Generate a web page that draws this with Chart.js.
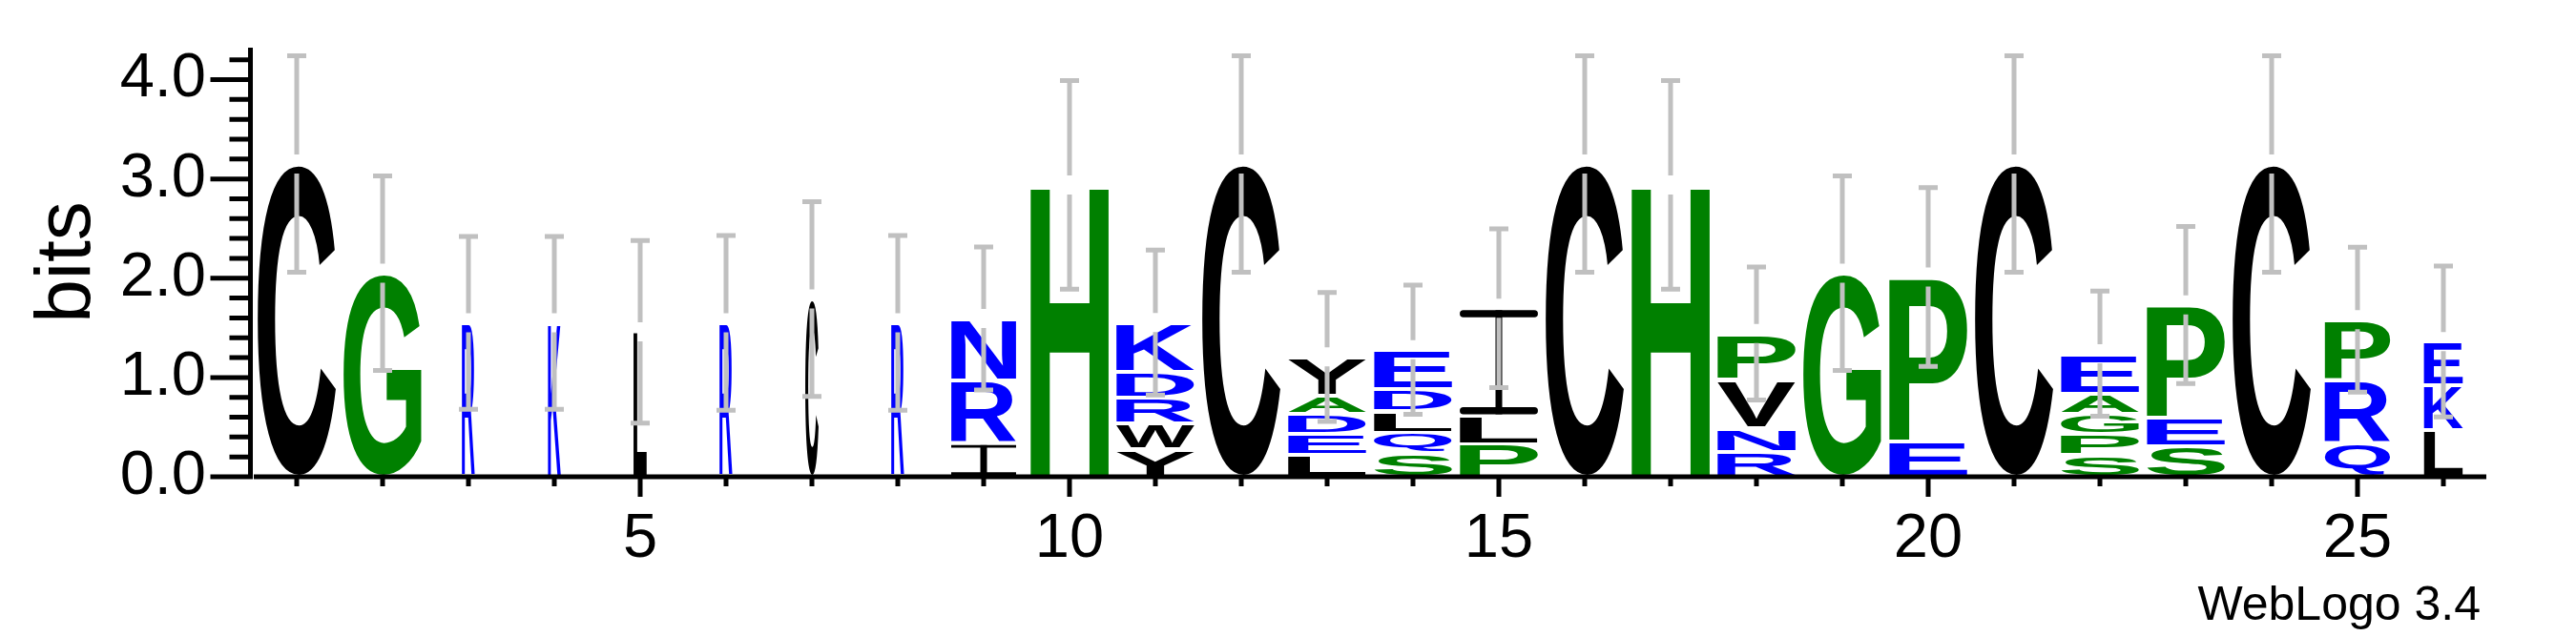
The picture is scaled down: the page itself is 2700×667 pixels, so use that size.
<!DOCTYPE html>
<html>
<head>
<meta charset="utf-8">
<title>Sequence logo</title>
<script src="https://cdn.jsdelivr.net/npm/chart.js@4.4.0/dist/chart.umd.min.js"></script>
<style>
    html, body { margin: 0; padding: 0; background: #ffffff; }
    #wrap { width: 2700px; height: 667px; }
</style>
</head>
<body>
<div id="wrap"><canvas id="logo" width="2700" height="667"></canvas></div>
<script>
(function() {
    'use strict';

    // Positions along the alignment
    const positions = ['1', '2', '3', '4', '5', '6', '7', '8', '9', '10', '11', '12', '13',
                       '14', '15', '16', '17', '18', '19', '20', '21', '22', '23', '24', '25', '26'];

    // Letter stacks, bottom (level 0) to top (level 4), heights in bits
    const letters0 = ['C', 'G', 'R', 'K', 'L', 'R', 'C', 'R', 'I', 'H', 'Y', 'C', 'L',
                      'S', 'P', 'C', 'H', 'R', 'G', 'E', 'C', 'S', 'S', 'C', 'Q', 'L'];
    const bits0 = [3.15, 2.05, 1.55, 1.55, 1.46, 1.55, 1.79, 1.55, 0.338, 2.94, 0.276, 3.15, 0.225,
                   0.237, 0.33, 3.15, 2.94, 0.253, 2.05, 0.355, 3.15, 0.22, 0.31, 3.15, 0.338, 0.47];

    const letters1 = ['', '', '', '', '', '', '', '', 'R', '', 'W', '', 'E',
                      'Q', 'L', '', '', 'N', '', 'P', '', 'P', 'E', '', 'R', 'K'];
    const bits1 = [0, 0, 0, 0, 0, 0, 0, 0, 0.636, 0, 0.264, 0, 0.205,
                   0.209, 0.28, 0, 0, 0.241, 0, 1.657, 0, 0.21, 0.283, 0, 0.636, 0.455];

    const letters2 = ['', '', '', '', '', '', '', '', 'N', '', 'R', '', 'D',
                      'L', 'I', '', '', 'V', '', '', '', 'G', 'P', '', 'P', 'E'];
    const bits2 = [0, 0, 0, 0, 0, 0, 0, 0, 0.621, 0, 0.26, 0, 0.2,
                   0.214, 1.087, 0, 0, 0.486, 0, 0, 0, 0.207, 1.137, 0, 0.609, 0.437];

    const letters3 = ['', '', '', '', '', '', '', '', '', '', 'D', '', 'A',
                      'D', '', '', '', 'P', '', '', '', 'A', '', '', '', ''];
    const bits3 = [0, 0, 0, 0, 0, 0, 0, 0, 0, 0, 0.26, 0, 0.19,
                   0.22, 0, 0, 0, 0.464, 0, 0, 0, 0.203, 0, 0, 0, 0];

    const letters4 = ['', '', '', '', '', '', '', '', '', '', 'K', '', 'Y',
                      'E', '', '', '', '', '', '', '', 'E', '', '', '', ''];
    const bits4 = [0, 0, 0, 0, 0, 0, 0, 0, 0, 0, 0.494, 0, 0.387,
                   0.40, 0, 0, 0, 0, 0, 0, 0, 0.40, 0, 0, 0, 0];

    // Error bar half widths (bits)
    const errors = [1.09, 0.98, 0.87, 0.87, 0.92, 0.88, 0.98, 0.88, 0.72, 1.05, 0.73, 1.09, 0.65,
                    0.65, 0.80, 1.09, 1.05, 0.67, 0.98, 0.90, 1.09, 0.63, 0.79, 1.09, 0.73, 0.76];

    // Stack width as a fraction of a full column (gapped columns are narrower)
    const columnWidths = [1, 1, 0.165, 0.165, 0.17, 0.165, 0.17, 0.165, 0.83, 1, 1, 1, 1,
                          1, 1, 1, 1, 1, 1, 1, 1, 1, 1, 1, 0.84, 0.5];

    const yMax = Math.log2(20);

    const levels = [
        { letters: letters0, bits: bits0 },
        { letters: letters1, bits: bits1 },
        { letters: letters2, bits: bits2 },
        { letters: letters3, bits: bits3 },
        { letters: letters4, bits: bits4 }
    ];

    const textFont = '"Liberation Sans", Arial, Helvetica, sans-serif';

    /**
     * Hydrophobicity colour scheme
     */
    function letterColour(ch) {
        if ('RKDENQ'.indexOf(ch) >= 0) return '#0000ff';
        if ('SGHTAP'.indexOf(ch) >= 0) return '#008000';
        return '#000000';
    }

    /**
     * Draw one letter stretched to fill a box
     */
    function drawGlyph(ctx, ch, x, y, w, h, colour) {
        ctx.save();
        if (ch === 'I') {
            // serif I: two bars and a thin stem
            const bar = Math.min(7.5, Math.max(2, h * 0.085));
            ctx.strokeStyle = colour;
            ctx.fillStyle = colour;
            ctx.lineCap = bar > 4 ? 'round' : 'butt';
            ctx.lineWidth = bar;
            const inset = ctx.lineCap === 'round' ? bar / 2 : 0;
            ctx.beginPath();
            ctx.moveTo(x + inset, y + bar / 2);
            ctx.lineTo(x + w - inset, y + bar / 2);
            ctx.moveTo(x + inset, y + h - bar / 2);
            ctx.lineTo(x + w - inset, y + h - bar / 2);
            ctx.stroke();
            ctx.fillRect(x + w / 2 - 3.5, y, 7, h);
            ctx.restore();
            return;
        }
        ctx.font = 'bold 200px ' + textFont;
        ctx.textAlign = 'left';
        ctx.textBaseline = 'alphabetic';
        const m = ctx.measureText(ch);
        const gw = m.actualBoundingBoxLeft + m.actualBoundingBoxRight;
        const gh = m.actualBoundingBoxAscent + m.actualBoundingBoxDescent;
        ctx.fillStyle = colour;
        ctx.translate(x, y);
        ctx.scale(w / gw, h / gh);
        ctx.fillText(ch, m.actualBoundingBoxLeft, m.actualBoundingBoxAscent);
        ctx.restore();
    }

    /**
     * Letters, error bars and axes
     */
    const logoPlugin = {
        id: 'logoPlugin',
        afterDatasetsDraw(chart) {
            const ctx = chart.ctx;
            const xScale = chart.scales.x;
            const yScale = chart.scales.y;

            // Letters
            chart.data.datasets.forEach((ds, k) => {
                const meta = chart.getDatasetMeta(k);
                meta.data.forEach((bar, i) => {
                    const ch = ds.letters[i];
                    if (!ch) return;
                    const p = bar.getProps(['x', 'y', 'base', 'width'], true);
                    const w = p.width * columnWidths[i];
                    const top = Math.min(p.y, p.base) + 2;
                    const h = Math.abs(p.base - p.y) - 4;
                    if (h <= 0) return;
                    drawGlyph(ctx, ch, p.x - w / 2, top, w, h, letterColour(ch));
                });
            });

            // Error bars
            ctx.save();
            ctx.strokeStyle = '#c0c0c0';
            ctx.lineWidth = 5;
            positions.forEach((pos, i) => {
                const total = levels.reduce((s, lv) => s + lv.bits[i], 0);
                const x = xScale.getPixelForValue(i);
                const yc = yScale.getPixelForValue(total);
                const yTop = yScale.getPixelForValue(total + errors[i]);
                const yBot = yScale.getPixelForValue(total - errors[i]);
                ctx.beginPath();
                ctx.moveTo(x, yTop);
                ctx.lineTo(x, yc - 10);
                ctx.moveTo(x, yc + 10);
                ctx.lineTo(x, yBot);
                ctx.moveTo(x - 10, yTop);
                ctx.lineTo(x + 10, yTop);
                ctx.moveTo(x - 10, yBot);
                ctx.lineTo(x + 10, yBot);
                ctx.stroke();
            });
            ctx.restore();

            // Axes
            const area = chart.chartArea;
            const y0 = yScale.getPixelForValue(0);
            const axisX = area.left - 3.5;
            ctx.save();
            ctx.strokeStyle = '#000000';
            ctx.lineWidth = 5;
            ctx.beginPath();
            ctx.moveTo(axisX, yScale.getPixelForValue(yMax));
            ctx.lineTo(axisX, y0 + 2.5);
            ctx.moveTo(area.left, y0);
            ctx.lineTo(area.right, y0);
            for (let t = 0; t <= 21; t++) {
                const v = t / 5;
                const py = yScale.getPixelForValue(v);
                ctx.moveTo(axisX - (t % 5 === 0 ? 42 : 22), py);
                ctx.lineTo(axisX, py);
            }
            positions.forEach((pos, i) => {
                const px = xScale.getPixelForValue(i);
                ctx.moveTo(px, y0);
                ctx.lineTo(px, y0 + (Number(pos) % 5 === 0 ? 21 : 10));
            });
            ctx.stroke();
            ctx.restore();
        },
        afterDraw(chart) {
            const ctx = chart.ctx;
            ctx.save();
            ctx.fillStyle = '#000000';
            ctx.font = '50px ' + textFont;
            ctx.textAlign = 'right';
            ctx.textBaseline = 'alphabetic';
            ctx.fillText('WebLogo 3.4', 2600, 650);
            ctx.restore();
        }
    };

    const datasets = levels.map((lv, k) => ({
        label: 'level ' + k,
        data: lv.bits,
        letters: lv.letters,
        backgroundColor: 'rgba(0, 0, 0, 0)',
        borderWidth: 0,
        barPercentage: 0.91,
        categoryPercentage: 1.0
    }));

    const ctx = document.getElementById('logo');
    new Chart(ctx, {
        type: 'bar',
        data: {
            labels: positions,
            datasets: datasets
        },
        options: {
            responsive: false,
            devicePixelRatio: 1,
            animation: false,
            layout: {
                padding: { top: 50, right: 94, bottom: 0, left: 0 }
            },
            plugins: {
                legend: { display: false },
                tooltip: { enabled: false }
            },
            scales: {
                x: {
                    type: 'category',
                    stacked: true,
                    offset: true,
                    grid: { display: false, drawTicks: false },
                    border: { display: false },
                    ticks: {
                        autoSkip: false,
                        maxRotation: 0,
                        padding: 27,
                        color: '#000000',
                        font: { family: textFont, size: 65 },
                        callback: function(value, index) {
                            return Number(positions[index]) % 5 === 0 ? positions[index] : '';
                        }
                    },
                    afterFit: function(scale) { scale.height = 167; }
                },
                y: {
                    type: 'linear',
                    stacked: true,
                    min: 0,
                    max: yMax,
                    grid: { display: false, drawTicks: false },
                    border: { display: false },
                    ticks: {
                        stepSize: 1,
                        includeBounds: false,
                        padding: 50,
                        color: '#000000',
                        font: { family: textFont, size: 65 },
                        callback: v => v.toFixed(1)
                    },
                    title: {
                        display: true,
                        text: 'bits',
                        color: '#000000',
                        font: { family: textFont, size: 82 },
                        padding: { top: 22, bottom: 0 }
                    },
                    afterFit: function(scale) {
                        // fixed axis width; tick padding should not push the plot down
                        scale.width = 266;
                        scale.paddingTop = 0;
                        scale.paddingBottom = 0;
                    }
                }
            }
        },
        plugins: [logoPlugin]
    });
})();
</script>
</body>
</html>
